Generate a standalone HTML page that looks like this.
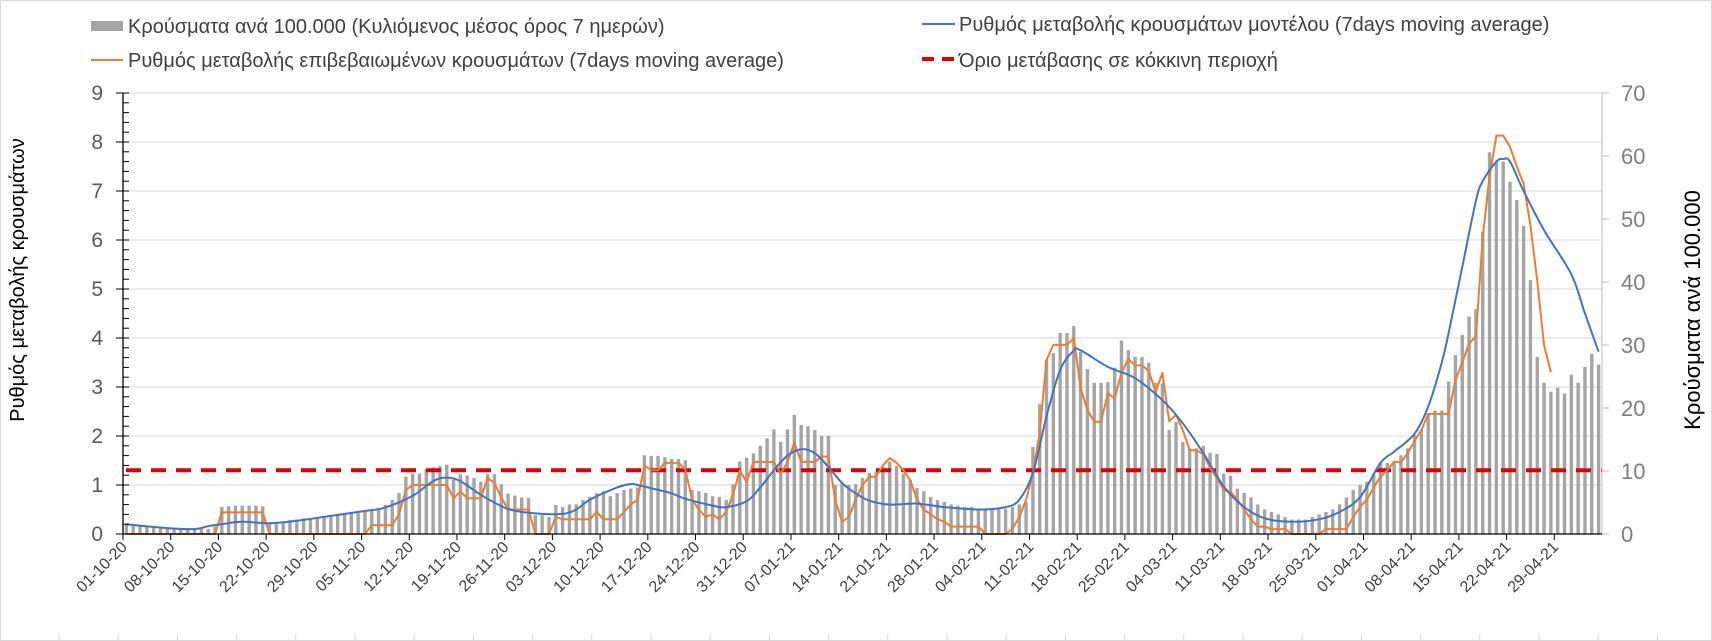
<!DOCTYPE html>
<html><head><meta charset="utf-8">
<style>
html,body{margin:0;padding:0;background:#fff;}
svg{display:block;font-family:"Liberation Sans",sans-serif;}
</style></head>
<body>
<svg id="chart" width="1712" height="641" viewBox="0 0 1712 641" xmlns="http://www.w3.org/2000/svg">
  <rect x="0.5" y="0.5" width="1711" height="640" fill="#fff" stroke="#d9d9d9"/>
  <g id="grid"></g>
  <g id="bars"></g>
  <g id="lines"></g>
  <g id="axes"></g>
  <g font-size="20" fill="#404040">
    <g>
      <rect x="91" y="21" width="32" height="10" fill="#a5a5a5"/>
      <text x="128" y="33">Κρούσματα ανά 100.000 (Κυλιόμενος μέσος όρος 7 ημερών)</text>
    </g>
    <g>
      <line x1="91" y1="60" x2="123" y2="60" stroke="#ed7d31" stroke-width="2"/>
      <text x="128" y="67">Ρυθμός μεταβολής επιβεβαιωμένων κρουσμάτων (7days moving average)</text>
    </g>
    <g>
      <line x1="922" y1="24" x2="955" y2="24" stroke="#4472c4" stroke-width="2"/>
      <text x="959" y="31">Ρυθμός μεταβολής κρουσμάτων μοντέλου (7days moving average)</text>
    </g>
    <g>
      <line x1="922" y1="59" x2="955" y2="59" stroke="#e00000" stroke-width="4" stroke-dasharray="12,8"/>
      <text x="959" y="67">Όριο μετάβασης σε κόκκινη περιοχή</text>
    </g>
  </g>
  <text transform="translate(24,280) rotate(-90)" text-anchor="middle" font-size="20" fill="#000">Ρυθμός μεταβολής κρουσμάτων</text>
  <text transform="translate(1700,310) rotate(-90)" text-anchor="middle" font-size="22" fill="#000">Κρούσματα ανά 100.000</text>
</svg>
<script>
const tickLabels = ["01-10-20","08-10-20","15-10-20","22-10-20","29-10-20","05-11-20","12-11-20","19-11-20","26-11-20","03-12-20","10-12-20","17-12-20","24-12-20","31-12-20","07-01-21","14-01-21","21-01-21","28-01-21","04-02-21","11-02-21","18-02-21","25-02-21","04-03-21","11-03-21","18-03-21","25-03-21","01-04-21","08-04-21","15-04-21","22-04-21","29-04-21"];
const leftTicks = [0,1,2,3,4,5,6,7,8,9];
const rightTicks = [0,10,20,30,40,50,60,70];
const casesPer100k = [1.6,1.5,1.3,1.2,1.2,1.1,1.0,0.9,0.9,0.9,0.8,0.8,0.8,1.2,
4.3,4.4,4.5,4.5,4.5,4.5,4.4,
1.7,1.7,2.0,2.2,2.3,2.5,2.5,
2.5,2.6,2.7,3.0,3.1,3.2,3.3,
3.5,3.8,4.1,4.6,5.4,6.5,
9.1,9.6,9.6,10.3,10.6,10.8,11.0,8.6,9.5,9.3,8.9,8.3,9.5,9.5,7.9,6.4,6.1,5.8,5.7,3.0,3.0,2.7,4.6,
4.3,4.7,4.7,5.4,
5.9,6.5,6.8,6.0,6.5,7.0,7.2,7.4,
12.5,12.4,12.4,12.2,11.9,11.9,11.7,
7.0,6.8,6.5,6.0,5.9,5.4,
7.9,11.5,12.1,12.8,14.0,15.2,16.6,14.6,16.6,18.9,17.3,17.1,16.5,15.6,15.6,
7.8,8.1,7.8,7.9,8.9,9.7,9.9,10.7,11.5,10.8,9.6,8.6,7.3,6.8,5.9,5.4,
5.1,4.7,4.5,4.3,4.3,3.9,3.9,3.9,3.9,4.0,4.3,4.7,5.1,
13.8,20.6,27.6,28.7,31.9,31.9,33.0,28.9,26.2,24.0,24.0,24.1,26.4,30.7,29.2,28.1,28.1,27.2,24.0,23.9,16.5,17.8,14.6,13.6,13.6,14.0,12.9,12.7,
9.6,9.2,7.2,6.5,5.8,4.7,3.9,3.5,3.1,2.7,2.3,2.3,2.3,2.7,3.1,3.5,3.9,4.7,5.8,7.0,7.8,8.3,9.6,11.3,11.3,11.5,12.5,13.6,15.7,16.5,19.1,19.6,19.6,24.2,28.4,31.6,34.5,35.7,48.0,
60.6,59.1,59.1,55.9,53.0,48.9,40.3,28.1,24.0,22.6,23.2,22.3,25.3,24.0,26.5,28.6,26.9];
const confirmedDays = [0,13,14,20,21,35,36,39,40,41,42,47,48,49,50,52,53,54,55,56,59,60,62,63,64,68,69,70,72,73,74,75,76,77,78,79,81,82,83,84,85,86,87,88,89,90,91,92,95,96,97,98,99,101,102,103,104,105,106,107,108,109,110,111,112,113,114,115,116,117,118,119,120,121,125,126,129,130,131,132,133,134,135,136,138,139,140,141,142,143,144,145,146,147,148,149,150,151,152,153,154,155,156,157,158,159,160,161,162,163,164,165,166,167,168,170,171,175,176,179,180,181,182,183,184,185,186,187,188,189,190,191,194,195,196,197,198,199,200,201,202,203,204,205,206,207,208,209];
const confirmedRate = [0,0,0.44,0.44,0,0,0.18,0.18,0.4,0.9,1.0,1.0,0.73,0.87,0.73,0.73,1.14,1.04,0.75,0.5,0.5,0,0,0.35,0.3,0.3,0.45,0.3,0.3,0.45,0.6,0.7,1.4,1.3,1.3,1.45,1.45,1.32,0.7,0.5,0.35,0.4,0.3,0.45,0.8,1.3,1.06,1.47,1.47,1.23,1.47,1.86,1.47,1.47,1.58,1.58,0.7,0.25,0.35,0.7,1.0,1.17,1.17,1.4,1.55,1.45,1.3,1.1,0.7,0.5,0.4,0.3,0.25,0.15,0.15,0,0,0.1,0.35,0.7,1.24,2.06,3.55,3.86,3.86,4.0,2.98,2.53,2.29,2.29,2.87,2.77,3.29,3.57,3.44,3.44,3.33,2.9,3.29,2.3,2.43,2.12,1.71,1.71,1.63,1.35,1.14,0.9,0.86,0.7,0.5,0.3,0.15,0.15,0.1,0.1,0,0,0.1,0.1,0.35,0.55,0.7,0.95,1.17,1.3,1.48,1.46,1.65,1.9,2.12,2.45,2.45,3.14,3.5,3.89,4.03,6.05,7.3,8.13,8.13,7.9,7.5,7.15,6.3,5.16,3.85,3.3];
const modelDays = [0,6,10,12,14,17,21,25,30,35,38,42,45,47,49,52,56,60,64,66,68,72,74,75,78,80,82,86,88,91,93,95,97,99,101,103,105,107,109,112,116,120,125,129,131,133,135,137,139,140,144,148,152,155,158,161,164,167,171,175,178,181,184,186,189,191,193,194,196,198,199,201,202,203,205,208,212,214,216];
const modelRate = [0.2,0.12,0.1,0.16,0.2,0.25,0.22,0.27,0.37,0.47,0.54,0.78,1.08,1.15,1.08,0.8,0.51,0.42,0.41,0.5,0.7,0.95,1.02,1.0,0.9,0.83,0.72,0.58,0.55,0.67,0.95,1.3,1.6,1.73,1.65,1.37,1.04,0.83,0.68,0.6,0.62,0.55,0.5,0.55,0.7,1.24,2.4,3.35,3.74,3.75,3.41,3.18,2.73,2.26,1.65,0.97,0.55,0.32,0.25,0.3,0.45,0.75,1.45,1.68,2.05,2.6,3.5,4.1,5.45,6.8,7.2,7.6,7.65,7.6,7.0,6.2,5.3,4.5,3.72];
const redThreshold = 1.3;

const NS = "http://www.w3.org/2000/svg";
const X0 = 123, X1 = 1602, Y0 = 534, YT = 93;
const N = casesPer100k.length;
const slot = (X1 - X0) / N;
const xCat = i => X0 + (i + 0.5) * slot;
const xEdge = i => X0 + i * slot;
const yL = v => Y0 - (v / 9) * (Y0 - YT);
const yR = v => Y0 - (v / 70) * (Y0 - YT);
function mk(tag, attrs, parent) {
  const e = document.createElementNS(NS, tag);
  for (const k in attrs) e.setAttribute(k, attrs[k]);
  parent.appendChild(e);
  return e;
}
const grid = document.getElementById('grid');
const bars = document.getElementById('bars');
const lines = document.getElementById('lines');
const axes = document.getElementById('axes');

leftTicks.forEach(v => {
  if (v === 0) return;
  const l = mk('line', {x1: X0, x2: X1, y1: yL(v), y2: yL(v), stroke: '#d9d9d9', 'stroke-width': 1}, grid);
  
  
});

casesPer100k.forEach((v, i) => {
  const r = mk('rect', {x: xCat(i) - 1.7, y: yR(v), width: 3.4, height: Y0 - yR(v), fill: '#a5a5a5'}, bars);
  
  
});

const red = mk('line', {x1: X0 + 3, x2: X1, y1: yL(redThreshold), y2: yL(redThreshold), stroke: '#e00000', 'stroke-width': 4, 'stroke-dasharray': '15,10'}, lines);



let d = confirmedDays.map((day, k) => (k ? 'L' : 'M') + xCat(day).toFixed(1) + ',' + yL(confirmedRate[k]).toFixed(1)).join(' ');
const orange = mk('path', {d: d, fill: 'none', stroke: '#ed7d31', 'stroke-width': 2, 'stroke-linejoin': 'round'}, lines);



const pts = modelDays.map((day, k) => [xCat(day), yL(modelRate[k])]);
let bd = 'M' + pts[0][0].toFixed(1) + ',' + pts[0][1].toFixed(1);
for (let k = 0; k < pts.length - 1; k++) {
  const p0 = pts[Math.max(0, k - 1)], p1 = pts[k], p2 = pts[k + 1], p3 = pts[Math.min(pts.length - 1, k + 2)];
  const c1 = [p1[0] + (p2[0] - p0[0]) / 6, p1[1] + (p2[1] - p0[1]) / 6];
  const c2 = [p2[0] - (p3[0] - p1[0]) / 6, p2[1] - (p3[1] - p1[1]) / 6];
  bd += ' C' + c1[0].toFixed(1) + ',' + c1[1].toFixed(1) + ' ' + c2[0].toFixed(1) + ',' + c2[1].toFixed(1) + ' ' + p2[0].toFixed(1) + ',' + p2[1].toFixed(1);
}
const blue = mk('path', {d: bd, fill: 'none', stroke: '#4472c4', 'stroke-width': 2}, lines);



const la = mk('line', {x1: X0, x2: X0, y1: YT, y2: Y0, stroke: '#000', 'stroke-width': 1.3}, axes);


for (let m = 0; m <= 45; m++) {
  const v = m * 0.2, y = yL(v);
  const major = m % 5 === 0;
  mk('line', {x1: major ? X0 - 7 : X0, x2: X0 + 6, y1: y, y2: y, stroke: '#000', 'stroke-width': 1}, axes);
}
leftTicks.forEach(v => {
  const t = mk('text', {x: 103, y: yL(v) + 7, 'text-anchor': 'end', 'font-size': 21, fill: '#595959'}, axes);
  t.textContent = v;
  
  
});
const ra = mk('line', {x1: X1, x2: X1, y1: YT, y2: Y0, stroke: '#bfbfbf', 'stroke-width': 1}, axes);


rightTicks.forEach(v => {
  mk('line', {x1: X1, x2: X1 + 7, y1: yR(v), y2: yR(v), stroke: '#bfbfbf', 'stroke-width': 1}, axes);
  const t = mk('text', {x: 1621, y: yR(v) + 8, 'font-size': 22, fill: '#7f7f7f'}, axes);
  t.textContent = v;
  
  
});
const xa = mk('line', {x1: X0, x2: X1, y1: Y0, y2: Y0, stroke: '#000', 'stroke-width': 1.3}, axes);


tickLabels.forEach((lab, k) => {
  const x = xEdge(k * 7);
  mk('line', {x1: x, x2: x, y1: Y0, y2: Y0 + 6, stroke: '#000', 'stroke-width': 1}, axes);
  const t = mk('text', {transform: 'translate(' + (x + 5).toFixed(1) + ',' + (Y0 + 14) + ') rotate(-45)', 'text-anchor': 'end', 'font-size': 16, fill: '#404040'}, axes);
  t.textContent = lab;
  
  
});
for (let x = 59; x < 1712; x += 59.2) {
  mk('line', {x1: x, x2: x, y1: 634, y2: 640, stroke: '#d9d9d9', 'stroke-width': 1}, axes);
}
</script>
</body></html>
